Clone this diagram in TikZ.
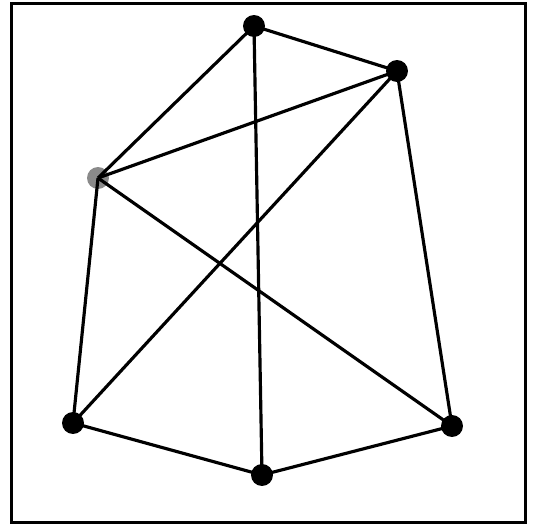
\documentclass[tikz,border=0pt]{standalone}
\usepackage{tikz}
\usetikzlibrary{calc}
\definecolor{grisVertice}{HTML}{8A8A8A}

\begin{document}
\begin{tikzpicture}[x=0.02cm, y=-0.02cm,
        vt/.style={circle, fill=black, minimum size=0.44cm, inner sep=0},
        vtg/.style={circle, fill=grisVertice, minimum size=0.44cm, inner sep=0},
        ar/.style={line width=1.8pt, black}]
    \useasboundingbox (0,0) rectangle (535,527);
    \draw[line width=2pt] (11.5,3.5) rectangle (525.5,522.5);
    % vertices
    \node[vt] (a) at (254,26) {};
    \node[vt] (b) at (397,71) {};
    \node[vtg] (c) at (98,178) {};
    \node[vt] (d) at (73,423) {};
    \node[vt] (e) at (262,475) {};
    \node[vt] (f) at (452,426) {};
    % edges
    \draw[ar] (a.center) -- (b.center);
    \draw[ar] (a.center) -- (c.center);
    \draw[ar] (a.center) -- (e.center);
    \draw[ar] (b.center) -- (c.center);
    \draw[ar] (b.center) -- (d.center);
    \draw[ar] (b.center) -- (f.center);
    \draw[ar] (c.center) -- (d.center);
    \draw[ar] (c.center) -- (f.center);
    \draw[ar] (d.center) -- (e.center);
    \draw[ar] (e.center) -- (f.center);
\end{tikzpicture}
\end{document}
